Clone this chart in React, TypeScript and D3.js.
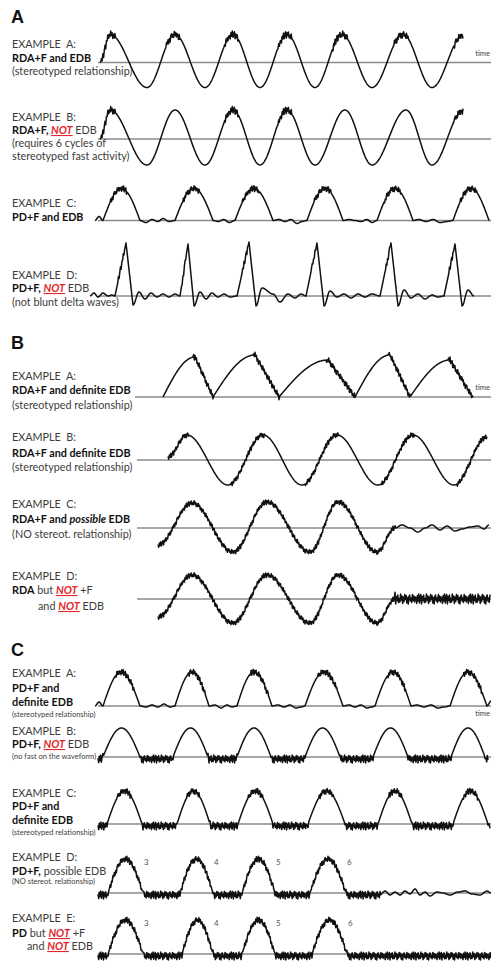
import React from 'react';
import * as d3 from 'd3';

type Ease = 'cos' | 'up' | 'down' | 'lin';
type Key = [number, number, Ease?];
type Span = [number, number, number];

const W = 491;
const H = 961;
const TIME_DOMAIN: [number, number] = [0, 8]; // seconds
const AMP_DOMAIN: [number, number] = [-100, 100]; // µV

// fixed fast-activity pattern (hand written, not random)
const FAST_PATTERN = [0.2, -0.9, 0.7, -0.4, 1.0, -0.8, 0.3, 0.9, -1.0, 0.5, -0.3, 0.8, -0.7, 0.1, -0.6, 1.0, -0.2, 0.6, -0.9, 0.4, -0.5, 0.9, -0.1, 0.7, -0.8, 0.3, -1.0, 0.5, 0.8, -0.4, 0.2, -0.7, 0.9, -0.3, 0.6, -0.6, 0.4];

// ---------- Panel A ----------
const A_A_KEYS: Key[] = [[0.20, 0], [0.40, 56], [1.14, -50], [1.70, 56], [2.30, -50], [2.86, 56], [3.40, -50], [3.94, 56], [4.50, -50], [5.04, 56], [5.64, -50], [6.26, 56], [6.84, -50], [7.46, 54]];
const A_A_FAST: Span[] = [[0.22, 0.50, 7], [1.52, 1.80, 7], [2.68, 2.96, 7], [3.76, 4.04, 7], [4.86, 5.14, 7], [6.08, 6.36, 7], [7.28, 7.46, 7]];

const A_B_KEYS: Key[] = [[0.20, 0], [0.40, 58], [1.14, -52], [1.70, 58], [2.30, -52], [2.86, 58], [3.40, -52], [3.94, 58], [4.50, -52], [5.10, 58], [5.64, -52], [6.32, 58], [6.84, -52], [7.46, 56]];
const A_B_FAST: Span[] = [[0.22, 0.50, 7], [2.68, 2.96, 7], [3.76, 4.04, 7], [7.28, 7.46, 7]];

const A_C_KEYS: Key[] = [[0.10, 0], [0.18, 8], [0.26, 0], [0.63, 64, 'up'], [1.00, 0, 'down'], [1.12, -4], [1.24, 2], [1.36, -2], [1.46, 4], [1.58, -2], [1.70, 0], [2.08, 64, 'up'], [2.46, 0, 'down'], [2.56, -2], [2.68, 2], [2.78, -4], [2.90, 0], [3.28, 64, 'up'], [3.66, 0, 'down'], [3.78, 2], [3.90, -2], [4.02, 2], [4.14, -6], [4.24, -2], [4.34, 0], [4.70, 64, 'up'], [5.06, 0, 'down'], [5.18, 2], [5.30, 0], [5.42, -2], [5.54, 2], [5.64, -4], [5.74, 0], [6.10, 64, 'up'], [6.46, 0, 'down'], [6.58, 2], [6.72, -2], [6.86, 2], [7.00, -4], [7.14, -2], [7.26, 0], [7.62, 64, 'up'], [7.98, 0, 'down']];
const A_C_FAST: Span[] = [[0.41, 0.74, 6], [1.85, 2.18, 6], [3.05, 3.38, 6], [4.49, 4.82, 6], [5.89, 6.22, 6], [7.41, 7.74, 6]];

const A_D_KEYS: Key[] = [[0.00, 0], [0.08, 6], [0.16, -2], [0.26, 6], [0.36, 0], [0.44, 2], [0.50, 0], [0.72, 106, 'lin'], [0.86, -18, 'lin'], [0.98, 8], [1.10, -6], [1.22, 6], [1.34, -2], [1.46, 4], [1.58, -2], [1.70, 4], [1.80, 0], [1.96, 104, 'lin'], [2.08, -20, 'lin'], [2.20, 8], [2.32, -6], [2.44, 6], [2.56, -2], [2.68, 4], [2.80, -2], [2.94, 0], [3.18, 108, 'lin'], [3.32, -20, 'lin'], [3.44, 16], [3.66, 4], [3.80, -12], [3.96, 4], [4.10, -4], [4.22, 4], [4.32, 0], [4.54, 106, 'lin'], [4.68, -20, 'lin'], [4.80, 10], [4.94, -2], [5.08, 4], [5.22, -4], [5.36, 4], [5.50, -2], [5.64, 4], [5.80, 0], [6.02, 106, 'lin'], [6.16, -20, 'lin'], [6.28, 12], [6.42, -4], [6.56, 4], [6.70, -6], [6.84, 2], [6.96, -2], [7.08, 0], [7.30, 104, 'lin'], [7.44, -20, 'lin'], [7.56, 12], [7.68, 0]];
const A_D_FAST: Span[] = [[0.56, 0.70, 6], [1.84, 1.94, 6], [3.04, 3.16, 6], [4.42, 4.52, 6], [5.90, 6.00, 6], [7.18, 7.28, 6]];

// ---------- Panel B ----------
const B_A_KEYS: Key[] = [[1.46, 0], [2.10, 80, 'up'], [2.46, 0, 'lin'], [3.30, 84, 'up'], [3.78, 0, 'lin'], [4.76, 74, 'up'], [5.30, 0, 'lin'], [6.00, 84, 'up'], [6.40, 0, 'lin'], [7.20, 74, 'up'], [7.66, -2, 'lin']];
const B_A_FAST: Span[] = [[2.06, 2.46, 6], [3.26, 3.78, 6], [4.72, 5.30, 6], [5.96, 6.40, 6], [7.16, 7.66, 6]];

const B_B_KEYS: Key[] = [[1.56, 6], [1.94, 50], [2.76, -50], [3.46, 50], [4.24, -50], [4.94, 50], [5.76, -50], [6.46, 50], [7.28, -50], [7.94, 46]];
const B_B_FAST: Span[] = [[1.56, 1.98, 5], [2.82, 3.50, 5], [4.30, 4.98, 5], [5.82, 6.50, 5], [7.34, 7.94, 5]];

const B_C_KEYS: Key[] = [[1.36, -34], [2.04, 50], [2.86, -48], [3.54, 52], [4.40, -48], [4.96, 52], [5.74, -48], [6.10, 0], [6.24, 6], [6.40, 0], [6.56, -8], [6.70, 0], [6.84, 6], [7.00, -4], [7.14, 4], [7.30, -6], [7.44, -2], [7.60, 2], [7.76, 4], [7.88, -2], [7.98, 6]];
const B_C_FAST: Span[] = [[1.36, 6.10, 5]];

const B_D_KEYS: Key[] = [[1.36, -36], [2.04, 48], [2.86, -48], [3.54, 48], [4.40, -48], [4.96, 48], [5.74, -48], [6.10, 0], [8.00, 0, 'lin']];
const B_D_FAST: Span[] = [[1.36, 6.10, 5], [6.10, 8.00, 10]];

// ---------- Panel C ----------
const C_A_KEYS: Key[] = [[0.10, 0], [0.18, 8], [0.26, 0], [0.62, 68, 'up'], [1.00, 0, 'down'], [1.12, -2], [1.24, 2], [1.36, -2], [1.48, 4], [1.60, -2], [1.70, 0], [2.04, 68, 'up'], [2.38, 0, 'down'], [2.50, 2], [2.62, -4], [2.74, 2], [2.84, -2], [2.94, 0], [3.28, 68, 'up'], [3.64, 0, 'down'], [3.76, 2], [3.88, -2], [4.00, 2], [4.12, -4], [4.22, -2], [4.30, 0], [4.68, 68, 'up'], [5.06, 0, 'down'], [5.18, 2], [5.30, -2], [5.42, 2], [5.54, -4], [5.64, -2], [5.70, 0], [6.06, 68, 'up'], [6.42, 0, 'down'], [6.54, 2], [6.68, -2], [6.82, 2], [6.96, -4], [7.08, -2], [7.20, 0], [7.56, 68, 'up'], [7.94, 0, 'down'], [8.02, 10]];
const C_A_FAST: Span[] = [[0.52, 0.88, 6], [1.96, 2.30, 6], [3.20, 3.56, 6], [4.56, 4.94, 6], [5.96, 6.32, 6], [7.46, 7.84, 6]];

const C_B_DOMES = [[0.26, 1.00], [1.66, 2.36], [2.94, 3.62], [4.30, 5.00], [5.66, 6.36], [7.22, 7.90]];
const C_C_DOMES = [[0.34, 1.04], [1.74, 2.40], [2.96, 3.66], [4.36, 5.10], [5.76, 6.44], [7.26, 7.96]];
const C_D_DOMES = [[0.36, 1.06], [1.80, 2.46], [3.04, 3.70], [4.40, 5.12]];
const C_E_DOMES = [[0.36, 1.06], [1.84, 2.46], [3.04, 3.70], [4.44, 5.14]];
const C_D_TAIL: Key[] = [[5.90, 4], [6.00, -4], [6.10, 2], [6.20, -4], [6.30, 4], [6.40, -2], [6.50, 8], [6.60, -4], [6.70, 2], [6.80, -6], [6.94, 2], [7.06, 0], [7.20, -4], [7.36, 2], [7.50, 4], [7.64, -2], [7.80, -4], [7.94, 4], [8.02, 0]];
const DOME_HEIGHTS = { cb: 58, cc: 66, cd: 68, ce: 68 };
const DOME_COUNT_LABELS = ['3', '4', '5', '6'];

function domeRow(domes: number[][], height: number, start: number, end: number, level: number, noiseAmp: number, fastFrom: number, fastTo: number, fastAmp: number) {
  const keys: Key[] = [[start, level]];
  const spans: Span[] = [];
  let prevEnd = start;
  domes.forEach(([a, b]) => {
    spans.push([prevEnd, a, noiseAmp]);
    keys.push([a - 0.02, level, 'lin'], [a, 0, 'lin'], [(a + b) / 2, height, 'up'], [b, 0, 'down'], [b + 0.02, level, 'lin']);
    if (fastAmp > 0) spans.push([a + fastFrom * (b - a), a + fastTo * (b - a), fastAmp]);
    prevEnd = b;
  });
  spans.push([prevEnd, end, noiseAmp]);
  keys.push([end, level, 'lin']);
  return { keys, spans };
}

function sampleWave(keys: Key[], spans: Span[], step = 0.014): [number, number][] {
  const pts: [number, number][] = [];
  for (let i = 1; i < keys.length; i++) {
    const [t0, v0] = keys[i - 1];
    const [t1, v1, ease = 'cos'] = keys[i];
    const n = Math.max(1, Math.round((t1 - t0) / step));
    for (let j = i === 1 ? 0 : 1; j <= n; j++) {
      const f = j / n;
      const e = ease === 'lin' ? f : ease === 'up' ? Math.sin((Math.PI / 2) * f) : ease === 'down' ? 1 - Math.cos((Math.PI / 2) * f) : (1 - Math.cos(Math.PI * f)) / 2;
      pts.push([t0 + (t1 - t0) * f, v0 + (v1 - v0) * e]);
    }
  }
  return pts.map(([t, v], k) => {
    let add = 0;
    for (const [a, b, amp] of spans) if (t >= a && t <= b) add += amp * FAST_PATTERN[k % FAST_PATTERN.length];
    return [t, v + add] as [number, number];
  });
}

type Seg = [string, string];
type Line = { y: number; x?: number; segs: Seg[]; size?: number };

const cb = domeRow(C_B_DOMES, DOME_HEIGHTS.cb, 0.16, 7.96, -4, 8, 0, 0, 0);
const cc = domeRow(C_C_DOMES, DOME_HEIGHTS.cc, 0.16, 8.0, -4, 8, 0.3, 0.7, 6);
const cd = domeRow(C_D_DOMES, DOME_HEIGHTS.cd, 0.16, 5.80, -4, 8, 0.05, 0.95, 6);
const ce = domeRow(C_E_DOMES, DOME_HEIGHTS.ce, 0.16, 8.02, -4, 8, 0.05, 0.95, 6);

const ROWS = [
  { base: 62.5, lineX: 98, keys: A_A_KEYS, spans: A_A_FAST },
  { base: 139, lineX: 98, keys: A_B_KEYS, spans: A_B_FAST },
  { base: 220.5, lineX: 98, keys: A_C_KEYS, spans: A_C_FAST },
  { base: 296, lineX: 98, keys: A_D_KEYS, spans: A_D_FAST },
  { base: 397, lineX: 135, keys: B_A_KEYS, spans: B_A_FAST },
  { base: 460, lineX: 137, keys: B_B_KEYS, spans: B_B_FAST },
  { base: 528, lineX: 137, keys: B_C_KEYS, spans: B_C_FAST },
  { base: 599, lineX: 137, keys: B_D_KEYS, spans: B_D_FAST },
  { base: 706, lineX: 98, keys: C_A_KEYS, spans: C_A_FAST },
  { base: 757, lineX: 98, keys: cb.keys, spans: cb.spans },
  { base: 824, lineX: 98, keys: cc.keys, spans: cc.spans },
  { base: 893, lineX: 98, keys: [...cd.keys, ...C_D_TAIL], spans: cd.spans, counts: C_D_DOMES },
  { base: 954, lineX: 98, keys: ce.keys, spans: ce.spans, counts: C_E_DOMES },
];

const EX = (l: string) => `EXAMPLE\u00A0\u00A0${l}:`;
const TINY = 7.5;
const LINES: Line[] = [
  { y: 48, segs: [[EX('A'), 'r']] },
  { y: 62, segs: [['RDA+F and EDB', 'b']] },
  { y: 75, segs: [['(stereotyped relationship)', 'r']] },
  { y: 121, segs: [[EX('B'), 'r']] },
  { y: 134, segs: [['RDA+F, ', 'b'], ['NOT', 'n'], [' EDB', 'r']] },
  { y: 147, segs: [['(requires 6 cycles of', 'r']] },
  { y: 160, segs: [['stereotyped fast activity)', 'r']] },
  { y: 207, segs: [[EX('C'), 'r']] },
  { y: 221, segs: [['PD+F and EDB', 'b']] },
  { y: 279, segs: [[EX('D'), 'r']] },
  { y: 292, segs: [['PD+F, ', 'b'], ['NOT', 'n'], [' EDB', 'r']] },
  { y: 306, segs: [['(not blunt delta waves)', 'r']] },

  { y: 380, segs: [[EX('A'), 'r']] },
  { y: 394, segs: [['RDA+F and definite EDB', 'b']] },
  { y: 409, segs: [['(stereotyped relationship)', 'r']] },
  { y: 441, segs: [[EX('B'), 'r']] },
  { y: 457, segs: [['RDA+F and definite EDB', 'b']] },
  { y: 471, segs: [['(stereotyped relationship)', 'r']] },
  { y: 508, segs: [[EX('C'), 'r']] },
  { y: 523, segs: [['RDA+F and ', 'b'], ['possible', 'bi'], [' EDB', 'b']] },
  { y: 538, segs: [['(NO stereot. relationship)', 'r']] },
  { y: 580, segs: [[EX('D'), 'r']] },
  { y: 594, segs: [['RDA', 'b'], [' but ', 'r'], ['NOT', 'n'], [' +F', 'r']] },
  { y: 610, x: 38, segs: [['and ', 'r'], ['NOT', 'n'], [' EDB', 'r']] },

  { y: 677, segs: [[EX('A'), 'r']] },
  { y: 692, segs: [['PD+F and', 'b']] },
  { y: 706, segs: [['definite EDB', 'b']] },
  { y: 717, size: TINY, segs: [['(stereotyped relationship)', 'r']] },
  { y: 735, segs: [[EX('B'), 'r']] },
  { y: 748, segs: [['PD+F, ', 'b'], ['NOT', 'n'], [' EDB', 'r']] },
  { y: 759, size: TINY, segs: [['(no fast on the waveform)', 'r']] },
  { y: 797, segs: [[EX('C'), 'r']] },
  { y: 810, segs: [['PD+F and', 'b']] },
  { y: 824, segs: [['definite EDB', 'b']] },
  { y: 835, size: TINY, segs: [['(stereotyped relationship)', 'r']] },
  { y: 861, segs: [[EX('D'), 'r']] },
  { y: 875, segs: [['PD+F,', 'b'], [' possible EDB', 'r']] },
  { y: 884, size: TINY, segs: [['(NO stereot. relationship)', 'r']] },
  { y: 922, segs: [[EX('E'), 'r']] },
  { y: 937, segs: [['PD', 'b'], [' but ', 'r'], ['NOT', 'n'], [' +F', 'r']] },
  { y: 950, x: 27, segs: [['and ', 'r'], ['NOT', 'n'], [' EDB', 'r']] },
];

const PANEL_LABELS = [
  { label: 'A', y: 23 },
  { label: 'B', y: 349 },
  { label: 'C', y: 656 },
];
const TIME_LABELS = [
  { y: 56 },
  { y: 390 },
  { y: 716 },
];

function segStyle(kind: string): React.SVGProps<SVGTSpanElement> {
  switch (kind) {
    case 'b':
      return { fontWeight: 700, fill: '#111' };
    case 'bi':
      return { fontWeight: 700, fontStyle: 'italic', fill: '#111' };
    case 'n':
      return { fontWeight: 700, fontStyle: 'italic', fill: '#e3262b', textDecoration: 'underline' };
    default:
      return { fontWeight: 400, fill: '#3c3c3c' };
  }
}

export default function App() {
  const x = d3.scaleLinear().domain(TIME_DOMAIN).range([90, 490]);
  return (
    <svg width={W} height={H} style={{ position: 'absolute', left: 0, top: 0, background: '#fff' }} xmlns="http://www.w3.org/2000/svg">
      <rect width={W} height={H} fill="#fff" />
      {PANEL_LABELS.map((p) => (
        <text key={p.label} x={11} y={p.y} fontFamily="'Liberation Sans', Arial, sans-serif" fontWeight={700} fontSize={18} fill="#111">
          {p.label}
        </text>
      ))}
      {ROWS.map((r, i) => {
        const y = d3.scaleLinear().domain(AMP_DOMAIN).range([r.base + 50, r.base - 50]);
        const pts = sampleWave(r.keys, r.spans);
        const line = d3.line<[number, number]>().x((d) => x(d[0])).y((d) => y(d[1]));
        return (
          <g key={i}>
            <line x1={r.lineX} x2={W} y1={y(0)} y2={y(0)} stroke="#8a8a8a" strokeWidth={1.4} />
            <path d={line(pts) || ''} fill="none" stroke="#111" strokeWidth={1.5} strokeLinejoin="round" />
            {r.counts &&
              r.counts.map((d, k) => (
                <text key={k} x={x(d[1]) + 1} y={y(56)} fontFamily="Lato, sans-serif" fontSize={8} fill="#555">
                  {DOME_COUNT_LABELS[k]}
                </text>
              ))}
          </g>
        );
      })}
      {TIME_LABELS.map((t, i) => (
        <text key={i} x={490} y={t.y} textAnchor="end" fontFamily="Lato, sans-serif" fontSize={7.5} fill="#444">
          time
        </text>
      ))}
      {LINES.map((l, i) => (
        <text key={i} x={l.x ?? 12} y={l.y} fontFamily="Lato, sans-serif" fontSize={l.size ?? 10.8} style={{ whiteSpace: 'pre' }}>
          {l.segs.map(([s, k], j) => (
            <tspan key={j} {...segStyle(k)}>
              {s}
            </tspan>
          ))}
        </text>
      ))}
    </svg>
  );
}
